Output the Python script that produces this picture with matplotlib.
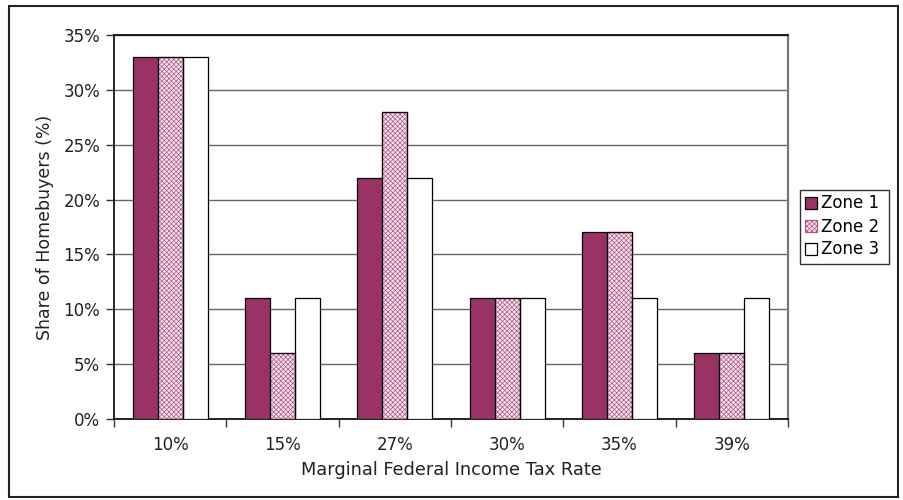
import matplotlib
matplotlib.use("Agg")
import matplotlib.pyplot as plt
from matplotlib.patches import Rectangle
import numpy as np

categories = ["10%", "15%", "27%", "30%", "35%", "39%"]
zone1 = [33, 11, 22, 11, 17, 6]
zone2 = [33, 6, 28, 11, 17, 6]
zone3 = [33, 11, 22, 11, 11, 11]
series_names = ["Zone 1", "Zone 2", "Zone 3"]
y_ticks = [0, 5, 10, 15, 20, 25, 30, 35]

plt.rcParams["font.family"] = ["DejaVu Sans"]
plt.rcParams["hatch.linewidth"] = 0.5
FS = 12
TXT = "#222222"

W, H = 904, 500
fig = plt.figure(figsize=(W / 100, H / 100), dpi=100)
ax = fig.add_axes([114 / W, 1 - 419 / H, (788 - 114) / W, (419 - 35) / H])

x = np.arange(len(categories))
bw = 0.223
kw = dict(edgecolor="black", linewidth=0.9, zorder=3)
b1 = ax.bar(x - bw, zone1, bw, color="#993366", **kw)
b2 = ax.bar(x, zone2, bw, facecolor="#f6e4ee", hatch="xxxxxxx", **kw)
for p in b2:
    p.set_edgecolor("#b05585")
# crisp black outline over the hatched bars
ax.bar(x, zone2, bw, facecolor="none", edgecolor="black", linewidth=0.9, zorder=4)
b3 = ax.bar(x + bw, zone3, bw, color="white", **kw)

ax.set_xlim(-0.5, len(categories) - 0.5)
ax.set_ylim(0, 35)
ax.set_yticks(y_ticks)
ax.set_yticklabels([f"{v}%" for v in y_ticks], fontsize=FS, color=TXT)
ax.yaxis.grid(True, color="#666666", linewidth=1.0, zorder=0)
ax.set_axisbelow(True)

ax.set_xticks(x)
ax.set_xticklabels(categories, fontsize=FS, color=TXT)
ax.tick_params(axis="x", which="major", length=0, pad=12)
ax.set_xticks(np.arange(-0.5, len(categories)), minor=True)
ax.tick_params(axis="x", which="minor", length=6, width=1, color="#333333", direction="out")
ax.tick_params(axis="y", length=6, width=1, color="#333333", direction="out", pad=4)

for s in ["left", "bottom", "top"]:
    ax.spines[s].set_color("black")
    ax.spines[s].set_linewidth(1.2)
ax.spines["right"].set_color("#777777")
ax.spines["right"].set_linewidth(1.6)

ax.set_ylabel("Share of Homebuyers (%)", fontsize=12.5, color=TXT, labelpad=7)
ax.set_xlabel("Marginal Federal Income Tax Rate", fontsize=12.8, color=TXT, labelpad=5)

leg = ax.legend([b1, b2, b3], series_names, loc="center left",
                bbox_to_anchor=(800 / W, 1 - 263 / H, (889 - 800) / W, (263 - 190) / H),
                bbox_transform=fig.transFigure, mode="expand",
                frameon=True, fancybox=False, fontsize=FS, handlelength=0.7,
                handleheight=0.7, handletextpad=0.25, borderpad=0.3, labelspacing=0.3,
                borderaxespad=0)
leg.get_frame().set_edgecolor("black")
leg.get_frame().set_linewidth(1.0)

fig.patches.append(Rectangle((9 / W, 1 - 497 / H), (898 - 9) / W, (497 - 6) / H,
                             transform=fig.transFigure, fill=False,
                             edgecolor="#222222", linewidth=1.5))

fig.savefig("out.png", dpi=100, facecolor="white")
